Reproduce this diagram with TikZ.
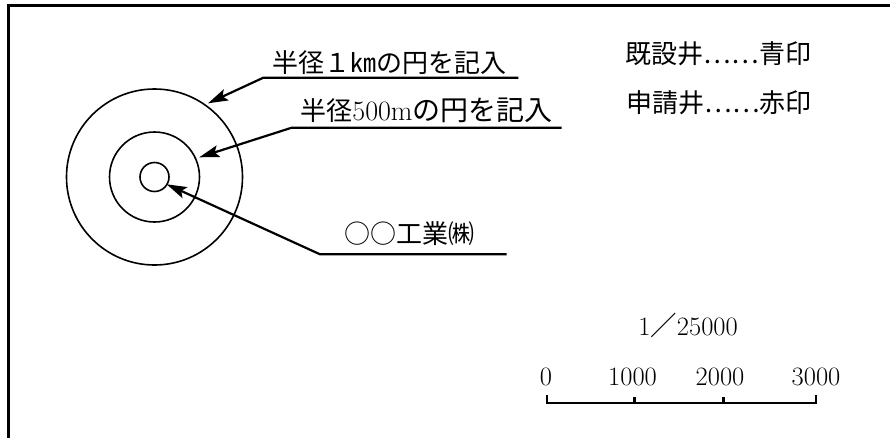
\documentclass[tikz,border=0pt]{standalone}
\usepackage{fontspec}
\newfontfamily\cjk{Noto Sans CJK JP}
\newcommand\jp[1]{{\cjk #1}}
\usetikzlibrary{arrows.meta}
\begin{document}
\begin{tikzpicture}[x=1pt,y=-1pt,
  lbl/.style={inner sep=0pt, anchor=base, font=\fontsize{26}{30}\selectfont},
  num/.style={inner sep=0pt, anchor=base, font=\fontsize{26.5}{30}\selectfont},
  leader/.style={line width=2.2pt, line join=miter, -{Stealth[length=20pt,width=12pt,inset=4pt]}},
  ring/.style={draw, circle, line width=1.6pt, inner sep=0pt},
  bar/.style={line width=2.4pt}]
\useasboundingbox (0,0) rectangle (890,437);
\clip (0,0) rectangle (890,437);
% frame
\draw[line width=2.6pt] (8.5,460) -- (8.5,5.5) -- (900,5.5);
% circles
\node[ring, minimum size=176pt] (outer) at (154.5,177) {};
\node[ring, minimum size=90pt] (mid) at (154.5,177) {};
\node[ring, minimum size=29pt] (inner) at (154.5,177) {};
% labels
\node[lbl] (l1) at (389.5,72) {\jp{半径１㎞の円を記入}};
\node[lbl] (l2) at (426.5,120) {\jp{半径}\fontsize{28}{30}\selectfont 500m\jp{の円を記入}};
\node[lbl] (l3) at (409,243) {\jp{○○工業㈱}};
\node[lbl] (r1) at (718.5,63) {\jp{既設井⋯⋯青印}};
\node[lbl] (r2) at (719,112) {\jp{申請井⋯⋯赤印}};
% leaders
\coordinate (u1e) at (518.3,77.7);
\coordinate (u1s) at (263.3,77.7);
\coordinate (t1) at (208,103.3);
\coordinate (u2e) at (561.7,127.7);
\coordinate (u2s) at (291.7,127.7);
\coordinate (t2) at (199.3,157.3);
\coordinate (u3e) at (506.7,254.3);
\coordinate (u3s) at (320,254.3);
\coordinate (t3) at (166.7,184.3);
\draw[leader] (u1e) -- (u1s) -- (t1);
\draw[leader] (u2e) -- (u2s) -- (t2);
\draw[leader] (u3e) -- (u3s) -- (t3);
% scale
\node[num] (sc) at (688,335) {1\jp{／}25000};
\node[num] (n0) at (546,385) {0};
\node[num] (n1) at (632.5,385) {1000};
\node[num] (n2) at (720,385) {2000};
\node[num] (n3) at (816,385) {3000};
\coordinate (b0) at (546.7,402.7);
\coordinate (b1) at (634.3,402.7);
\coordinate (b2) at (723.3,402.7);
\coordinate (b3) at (815.7,402.7);
\draw[bar] (546.7,395) -- (b0) -- (b3) -- (815.7,395);
\draw[bar] (b1) -- (634.3,396.5);
\draw[bar] (b2) -- (723.3,396.5);
\end{tikzpicture}
\end{document}
